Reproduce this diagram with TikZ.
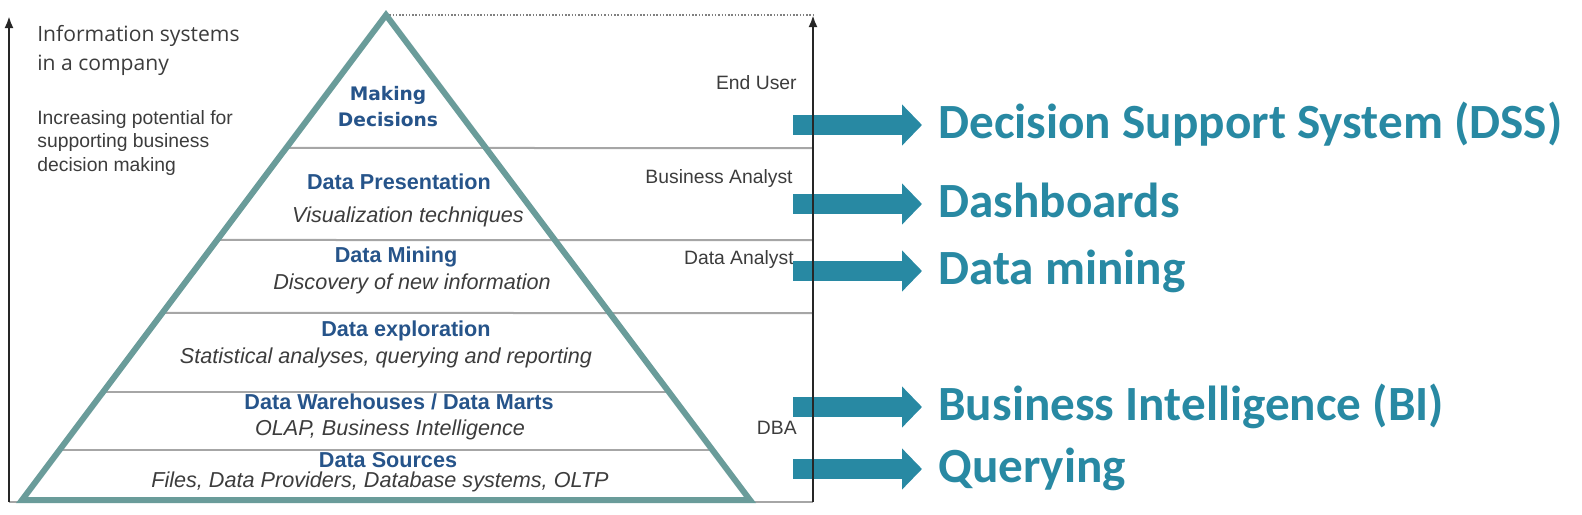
\documentclass[tikz,border=0pt]{standalone}
\usepackage{fontspec}
\setmainfont{Liberation Sans}
\newfontfamily\calibrifont{Carlito}
\newfontfamily\opensansfont{Open Sans}
\newfontfamily\dejavufont{DejaVu Sans}
\usetikzlibrary{arrows.meta,calc}
\definecolor{tealarrow}{RGB}{40,137,163}
\definecolor{pyrline}{RGB}{106,156,154}
\definecolor{layerblue}{RGB}{38,84,138}
\definecolor{textgray}{RGB}{60,60,60}
\begin{document}
\begin{tikzpicture}[x=0.2mm, y=-0.2mm,
    layer/.style={font=\fontsize{12.3}{14}\selectfont\bfseries, text=layerblue, inner sep=0pt},
    toplayer/.style={layer, font=\dejavufont\fontsize{10.6}{13}\selectfont\bfseries},
    desc/.style={font=\fontsize{12.3}{14}\selectfont\itshape, text=textgray, inner sep=0pt},
    role/.style={font=\fontsize{11}{13}\selectfont, text=textgray, anchor=east, inner sep=0pt},
    system/.style={font=\calibrifont\fontsize{28}{30}\selectfont\bfseries, text=tealarrow,
        anchor=west, inner xsep=3.2mm, inner ysep=0pt, text height=6.6mm, text depth=1.4mm},
    bigarrow/.style={draw=tealarrow, line width=4mm, -{Triangle[length=4mm, width=8mm]}},
    level/.style={draw=gray!70, line width=0.4mm},
    axis/.style={draw=black!85, line width=0.5mm, -{Latex[length=2.4mm, width=1.8mm]}}
]
    \useasboundingbox (0,0) rectangle (1582,514);

    % pyramid corners and the two axes
    \coordinate (apex) at (386,15);
    \coordinate (bl) at (22,500);
    \coordinate (br) at (750,500);
    \coordinate (lbot) at (9,502);
    \coordinate (ltop) at (9,16);
    \coordinate (rbot) at (813,502);
    \coordinate (rtop) at (813,15);

    % level separators
    \draw [level] ($(bl)!0.7258!(apex)$) -- (813,148);
    \draw [level] ($(bl)!0.5361!(apex)$) -- (813,240);
    \draw [level] ($(bl)!0.3856!(apex)$) -- (813,313);
    \draw [level] ($(bl)!0.2227!(apex)$) -- ($(br)!0.2227!(apex)$);
    \draw [level] ($(bl)!0.1031!(apex)$) -- ($(br)!0.1031!(apex)$);
    \draw [level] (lbot) -- (rbot);
    \draw [gray, densely dotted, line width=0.3mm] (apex) -- (rtop);

    \draw [pyrline, line width=1.2mm] (bl) -- (apex) -- (br) -- cycle;

    \node (making) [toplayer] at (388,95) {Making};
    \node (decisions) [toplayer] at (388,120) {Decisions};
    \node (present) [layer] at (399,182) {Data Presentation};
    \node (presentdesc) [desc] at (408,217) {Visualization techniques};
    \node (mining) [layer] at (396,257) {Data Mining};
    \node (miningdesc) [desc] at (412,284) {Discovery of new information};
    \node (explore) [layer] at (406,331) {Data exploration};
    \node (exploredesc) [desc] at (386,358) {Statistical analyses, querying and reporting};
    \node (warehouse) [layer] at (399,402) {Data Warehouses / Data Marts};
    \node (warehousedesc) [desc] at (390,430) {OLAP, Business Intelligence};
    \node (sources) [layer] at (388,460) {Data Sources};
    \node (sourcesdesc) [desc] at (380,482) {Files, Data Providers, Database systems, OLTP};

    \node (enduser) [role] at (797,83) {End User};
    \node (banalyst) [role] at (793,178) {Business Analyst};
    \node (danalyst) [role] at (794,259) {Data Analyst};
    \node (dba) [role] at (797,428) {DBA};

    \node (infosys) [anchor=north west, align=left, inner sep=0pt, text=textgray,
        font=\opensansfont\fontsize{12}{16.5}\selectfont] at (37,25) {Information systems\\in a company};
    \node (potential) [anchor=north west, align=left, inner sep=0pt, text=textgray,
        font=\fontsize{11}{13.4}\selectfont] at (37,110) {Increasing potential for\\supporting business\\decision making};

    % outputs on the right
    \coordinate (dsssrc) at (793,125);
    \coordinate (dashsrc) at (793,204);
    \coordinate (dminsrc) at (793,271);
    \coordinate (bisrc) at (793,407);
    \coordinate (querysrc) at (793,469);
    \node (dss) [system] at (922,125) {Decision Support System (DSS)};
    \node (dash) [system] at (922,204) {Dashboards};
    \node (dmin) [system] at (922,271) {Data mining};
    \node (bi) [system] at (922,407) {Business Intelligence (BI)};
    \node (query) [system] at (922,469) {Querying};

    \draw [bigarrow] (dsssrc) -- (dss.west);
    \draw [bigarrow] (dashsrc) -- (dash.west);
    \draw [bigarrow] (dminsrc) -- (dmin.west);
    \draw [bigarrow] (bisrc) -- (bi.west);
    \draw [bigarrow] (querysrc) -- (query.west);

    \draw [axis] (lbot) -- (ltop);
    \draw [axis] (rbot) -- (rtop);
\end{tikzpicture}
\end{document}
